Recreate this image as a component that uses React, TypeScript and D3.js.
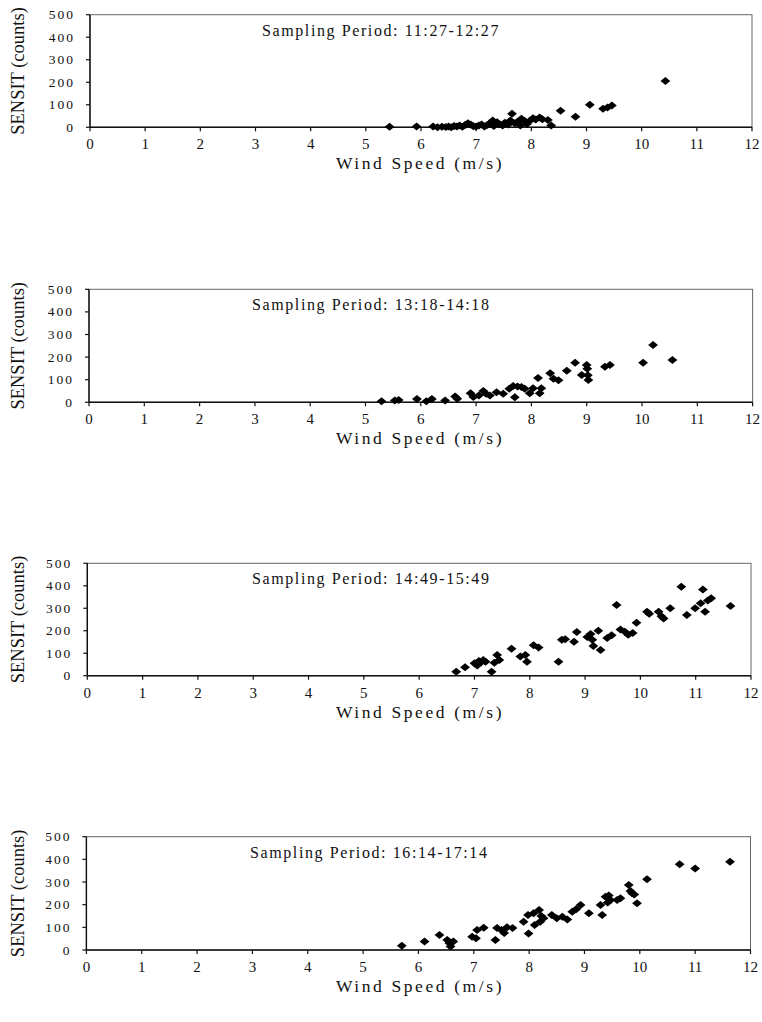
import React from "react";
import * as d3 from "d3";

const periods = ["11:27-12:27", "13:18-14:18", "14:49-15:49", "16:14-17:14"];
const xTicks = [0, 1, 2, 3, 4, 5, 6, 7, 8, 9, 10, 11, 12];
const yTicks = [0, 100, 200, 300, 400, 500];

const p1: [number, number][] = [
  [5.43, 2], [5.92, 4], [6.22, 3], [6.3, 0], [6.38, 2], [6.45, 1], [6.5, 4], [6.55, 0], [6.6, 6], [6.65, 3],
  [6.7, 8], [6.75, 2], [6.8, 10], [6.85, 18], [6.9, 12], [6.95, 5], [7.0, 3], [7.05, 8], [7.1, 12], [7.15, 4],
  [7.2, 10], [7.25, 18], [7.3, 30], [7.32, 6], [7.38, 22], [7.42, 14], [7.48, 8], [7.52, 20], [7.58, 12],
  [7.62, 30], [7.65, 60], [7.7, 18], [7.75, 25], [7.8, 8], [7.82, 38], [7.88, 28], [7.92, 15], [7.98, 30],
  [8.03, 40], [8.08, 35], [8.15, 44], [8.2, 36], [8.3, 32], [8.36, 8], [8.53, 73], [8.8, 47], [9.06, 100],
  [9.3, 82], [9.38, 88], [9.46, 97], [10.43, 206],
];
const p2: [number, number][] = [
  [5.29, 5], [5.53, 8], [5.6, 10], [5.93, 15], [6.1, 5], [6.2, 15], [6.44, 8], [6.62, 26], [6.66, 16],
  [6.9, 40], [6.95, 24], [7.05, 30], [7.13, 50], [7.18, 38], [7.25, 30], [7.37, 45], [7.49, 38], [7.6, 60],
  [7.67, 72], [7.7, 22], [7.75, 70], [7.82, 68], [7.88, 60], [7.97, 40], [8.03, 62], [8.12, 108], [8.15, 40],
  [8.18, 62], [8.34, 128], [8.4, 104], [8.49, 98], [8.64, 140], [8.79, 175], [8.91, 121], [9.0, 165],
  [9.01, 148], [9.02, 120], [9.03, 99], [9.33, 157], [9.42, 165], [10.02, 175], [10.2, 253], [10.55, 187],
];
const p3: [number, number][] = [
  [6.67, 18], [6.83, 38], [7.0, 55], [7.05, 45], [7.08, 65], [7.12, 60], [7.16, 70], [7.2, 62], [7.31, 18],
  [7.36, 58], [7.41, 92], [7.45, 70], [7.67, 120], [7.83, 85], [7.92, 92], [7.95, 62], [8.07, 135], [8.16, 126],
  [8.52, 62], [8.58, 160], [8.64, 162], [8.8, 151], [8.85, 194], [9.04, 172], [9.1, 185], [9.13, 160],
  [9.15, 132], [9.24, 200], [9.28, 114], [9.4, 168], [9.48, 180], [9.57, 315], [9.64, 205], [9.72, 195],
  [9.78, 182], [9.86, 190], [9.93, 236], [10.12, 285], [10.16, 276], [10.33, 285], [10.38, 265], [10.42, 255],
  [10.54, 300], [10.74, 396], [10.84, 270], [10.99, 300], [11.09, 322], [11.13, 384], [11.17, 285],
  [11.22, 335], [11.28, 344], [11.63, 310],
];
const p4: [number, number][] = [
  [5.7, 19], [6.11, 37], [6.38, 66], [6.52, 44], [6.56, 30], [6.58, 15], [6.63, 37], [6.97, 59], [7.04, 52],
  [7.06, 88], [7.18, 98], [7.39, 44], [7.42, 97], [7.5, 88], [7.55, 75], [7.6, 100], [7.7, 97], [7.9, 125],
  [7.99, 73], [7.98, 154], [8.1, 110], [8.08, 162], [8.18, 176], [8.2, 125], [8.26, 140], [8.22, 150],
  [8.41, 154], [8.5, 140], [8.6, 147], [8.69, 135], [8.78, 169], [8.85, 180], [8.93, 199], [9.08, 162],
  [9.29, 199], [9.32, 154], [9.38, 235], [9.42, 210], [9.47, 221], [9.44, 240], [9.59, 221], [9.65, 228],
  [9.8, 287], [9.83, 260], [9.86, 250], [9.9, 245], [9.95, 206], [10.13, 312], [10.72, 378], [11.0, 360],
  [11.63, 390],
];
const series = [p1, p2, p3, p4];

const panels = [
  { left: 90, right: 752, top: 14.7, bottom: 127.3, titleX: 262 },
  { left: 89, right: 752.6, top: 289.3, bottom: 402.3, titleX: 252 },
  { left: 87.3, right: 751, top: 563.3, bottom: 675.7, titleX: 252 },
  { left: 86.4, right: 750.5, top: 836.7, bottom: 950, titleX: 250 },
];

const FONT = "'Liberation Serif', 'Times New Roman', serif";

function Panel({ idx }: { idx: number }) {
  const p = panels[idx];
  const x = d3.scaleLinear().domain([0, 12]).range([p.left, p.right]);
  const y = d3.scaleLinear().domain([0, 500]).range([p.bottom, p.top]);
  const data = series[idx];
  const dw = 4.9, dh = 4.0;
  const diamond = (cx: number, cy: number) =>
    `M${cx},${cy - dh}L${cx + dw},${cy}L${cx},${cy + dh}L${cx - dw},${cy}Z`;
  return (
    <g>
      <rect x={p.left} y={p.top} width={p.right - p.left} height={p.bottom - p.top}
        fill="white" stroke="#666" strokeWidth={1} />
      <line x1={p.left} x2={p.right} y1={p.bottom} y2={p.bottom} stroke="#111" strokeWidth={1.4} />
      <line x1={p.left} x2={p.left} y1={p.top} y2={p.bottom} stroke="#111" strokeWidth={1.4} />
      {xTicks.map((t) => (
        <g key={"x" + t}>
          <line x1={x(t)} x2={x(t)} y1={p.bottom} y2={p.bottom + 4} stroke="#111" strokeWidth={1.2} />
          <text x={x(t)} y={p.bottom + 22} textAnchor="middle" fontSize={15} fontFamily={FONT} fill="#111">
            {t}
          </text>
        </g>
      ))}
      {yTicks.map((t) => (
        <g key={"y" + t}>
          <line x1={p.left - 4} x2={p.left} y1={y(t)} y2={y(t)} stroke="#111" strokeWidth={1.2} />
          <text x={p.left - 15} y={y(t) + 4.5} textAnchor="end" fontSize={13.5} letterSpacing={2}
            fontFamily={FONT} fill="#111">
            {t}
          </text>
        </g>
      ))}
      {data.map((d, i) => (
        <path key={i} d={diamond(x(d[0]), y(d[1]))} fill="#000" />
      ))}
      <text x={p.titleX} y={p.top + 21} fontSize={16} letterSpacing={1.6} fontFamily={FONT} fill="#111">
        {"Sampling Period: " + periods[idx]}
      </text>
      <text x={420} y={p.bottom + 42} textAnchor="middle" fontSize={17.5} letterSpacing={2.6}
        fontFamily={FONT} fill="#111">
        Wind Speed (m/s)
      </text>
      <text transform={`translate(24,${(p.top + p.bottom) / 2}) rotate(-90)`} textAnchor="middle"
        fontSize={18.5} fontFamily={FONT} fill="#111">
        SENSIT (counts)
      </text>
    </g>
  );
}

export default function App() {
  return (
    <svg width={762} height={1022} style={{ position: "absolute", left: 0, top: 0, background: "white" }}>
      <rect width={762} height={1022} fill="white" />
      {panels.map((_, i) => (
        <Panel key={i} idx={i} />
      ))}
    </svg>
  );
}
